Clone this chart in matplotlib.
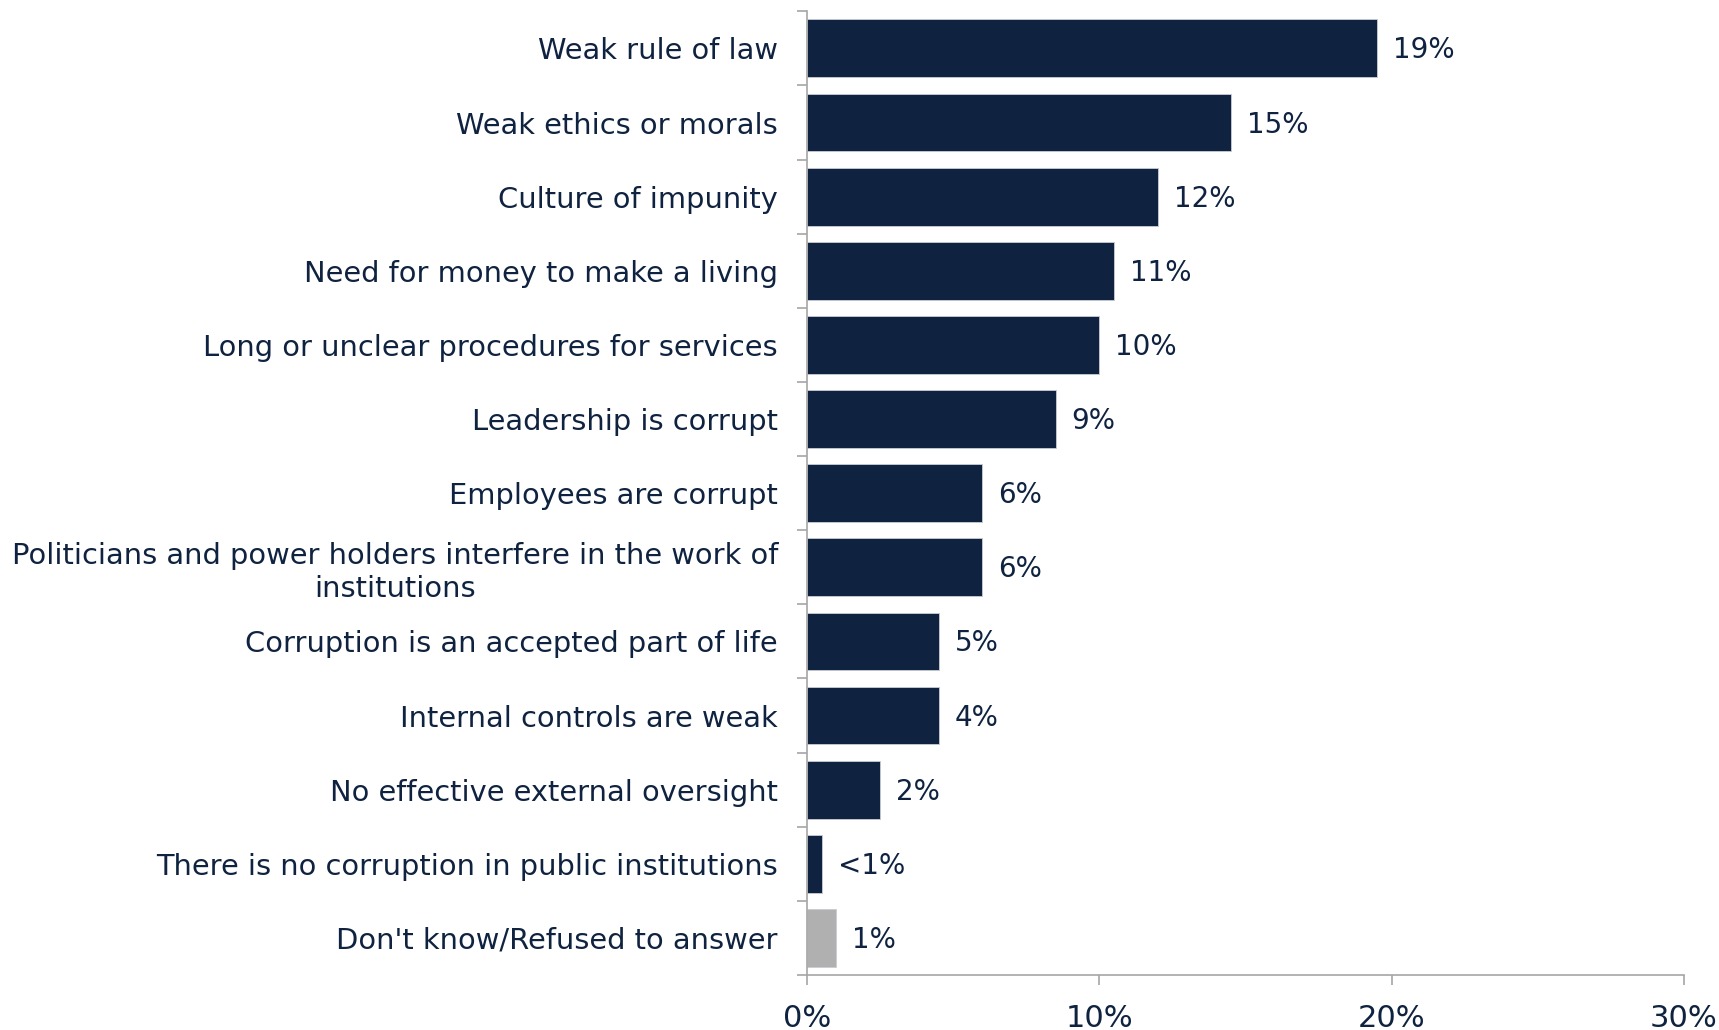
import matplotlib
matplotlib.use("Agg")
import matplotlib.pyplot as plt
from matplotlib.ticker import FuncFormatter

plt.rcParams['font.family'] = ['DejaVu Sans']

# data
categories = [
    "Weak rule of law",
    "Weak ethics or morals",
    "Culture of impunity",
    "Need for money to make a living",
    "Long or unclear procedures for services",
    "Leadership is corrupt",
    "Employees are corrupt",
    "Politicians and power holders interfere in the work of\ninstitutions",
    "Corruption is an accepted part of life",
    "Internal controls are weak",
    "No effective external oversight",
    "There is no corruption in public institutions",
    "Don't know/Refused to answer",
]
values = [19.5, 14.5, 12.0, 10.5, 10.0, 8.5, 6.0, 6.0, 4.5, 4.5, 2.5, 0.5, 1.0]
value_labels = ["19%", "15%", "12%", "11%", "10%", "9%", "6%", "6%", "5%", "4%", "2%", "<1%", "1%"]
colors = ["#0f2340"] * 12 + ["#b0b0b0"]

navy = "#0f2340"
axis_gray = "#a6a6a6"

fig = plt.figure(figsize=(17.19, 10.30), dpi=100)
ax = fig.add_axes([0.4695, 0.0534, 0.5101, 0.9356])

pos = list(range(len(categories)))
ax.barh(pos, values, height=0.78, color=colors, edgecolor="#c8ccd4", linewidth=0.6)

for p, v, lab in zip(pos, values, value_labels):
    ax.annotate(lab, (v, p), xytext=(16, -2), textcoords="offset pixels",
                va="center", ha="left", fontsize=20, color=navy)

ax.set_ylim(len(categories) - 0.5, -0.5)
ax.set_xlim(0, 30)
ax.set_xticks([0, 10, 20, 30])
ax.xaxis.set_major_formatter(FuncFormatter(lambda x, _: f"{x:.0f}%"))

# y ticks sit between categories, labels centred on bars
ax.set_yticks([p - 0.5 for p in pos] + [len(pos) - 0.5])
ax.set_yticklabels([])
ax.set_yticks(pos, minor=True)
ax.set_yticklabels(categories, minor=True, fontsize=20.8, color=navy, multialignment="center")
ax.tick_params(axis="y", which="minor", length=0, pad=21)
ax.tick_params(axis="y", which="major", length=7.2, width=1.2, color=axis_gray)
ax.tick_params(axis="x", length=7.2, width=1.2, color=axis_gray, labelsize=22,
               labelcolor=navy, pad=14)

for side in ["top", "right"]:
    ax.spines[side].set_visible(False)
for side in ["left", "bottom"]:
    ax.spines[side].set_color(axis_gray)
    ax.spines[side].set_linewidth(1.2)

fig.savefig("out.png", dpi=100)
